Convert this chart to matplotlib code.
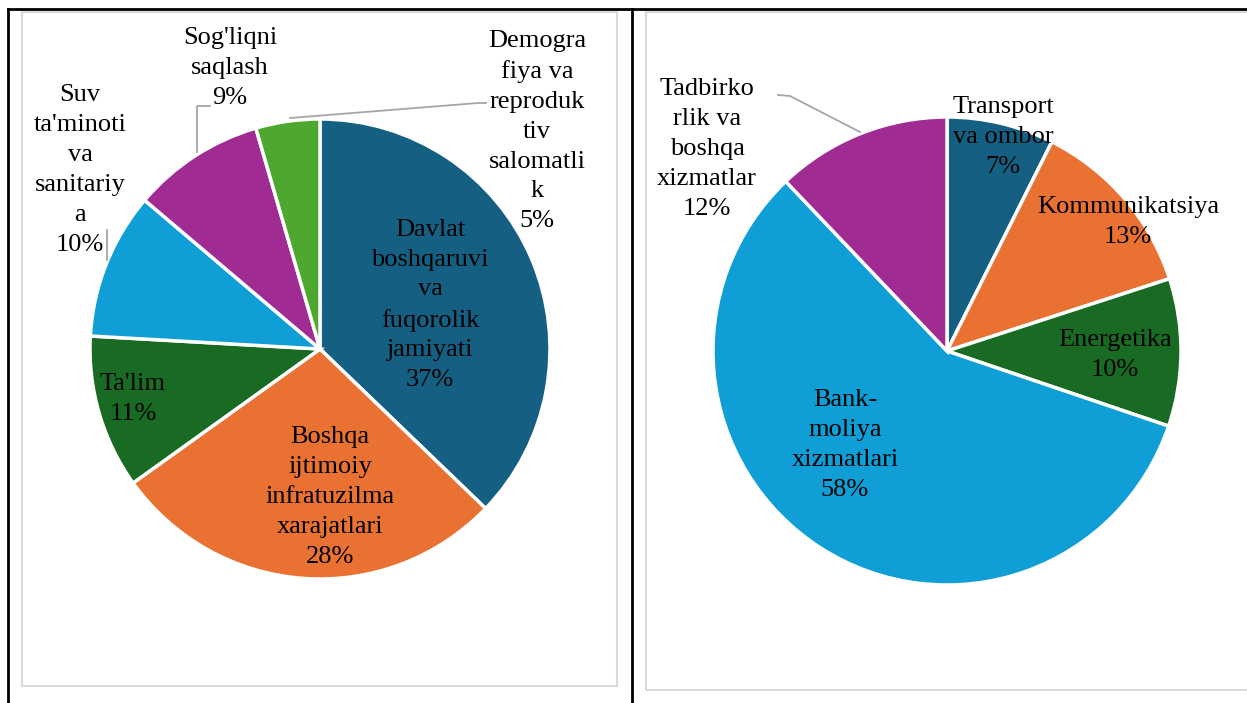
import matplotlib.pyplot as plt
from matplotlib.patches import Rectangle

# ----------- DATA ------------
left_labels = ["Davlat\nboshqaruvi\nva\nfuqorolik\njamiyati",
               "Boshqa\nijtimoiy\ninfratuzilma\nxarajatlari",
               "Ta'lim",
               "Suv\nta'minoti\nva\nsanitariy\na",
               "Sog'liqni\nsaqlash",
               "Demogra\nfiya va\nreproduk\ntiv\nsalomatli\nk"]
left_values = [37.2, 27.9, 10.8, 10.3, 9.3, 4.5]
left_pct = ["37%", "28%", "11%", "10%", "9%", "5%"]

right_labels = ["Transport\nva ombor", "Kommunikatsiya", "Energetika",
                "Bank-\nmoliya\nxizmatlari",
                "Tadbirko\nrlik va\nboshqa\nxizmatlar"]
right_values = [7.4, 12.6, 10.2, 57.7, 12.1]
right_pct = ["7%", "13%", "10%", "58%", "12%"]

left_colors = ['#156082', '#E97132', '#196B24', '#0F9ED5', '#A02B93', '#4EA72E']
right_colors = ['#156082', '#E97132', '#196B24', '#0F9ED5', '#A02B93']
# -------------------------------

W, H = 1247, 703
plt.rcParams['font.family'] = ['Liberation Serif', 'DejaVu Serif']

fig = plt.figure(figsize=(W / 100, H / 100), dpi=100)
ax = fig.add_axes([0, 0, 1, 1])


def Y(y):
    # image pixel row -> axis y
    return H - y


wp = dict(edgecolor='white', linewidth=2.5)
ax.pie(left_values, colors=left_colors, startangle=90, counterclock=False,
       center=(320, Y(349)), radius=230, wedgeprops=wp, frame=True)
ax.pie(right_values, colors=right_colors, startangle=90, counterclock=False,
       center=(947, Y(351)), radius=234, wedgeprops=wp, frame=True)
ax.set_xlim(0, W)
ax.set_ylim(0, H)
ax.set_aspect('equal')
ax.axis('off')

# table borders and chart frames
ax.plot([8, W], [Y(9), Y(9)], color='black', lw=2)
ax.plot([8, 8], [Y(9), 0], color='black', lw=2)
ax.plot([632, 632], [Y(9), 0], color='black', lw=2)
ax.add_patch(Rectangle((22, Y(686)), 595, 674, fill=False, ec='#D9D9D9', lw=1.5))
ax.add_patch(Rectangle((646, Y(690)), 610, 678, fill=False, ec='#D9D9D9', lw=1.5))

fs = 19
ls = 1.46
left_pos = [(430, 305), (330, 497), (133, 399), (80, 170), (230, 68), (537, 131)]
for lab, pct, (x, y) in zip(left_labels, left_pct, left_pos):
    ax.text(x, Y(y), lab + "\n" + pct, ha='center', va='center', fontsize=fs,
            linespacing=ls, color='black')

right_pos = [(1003, 137), (1128, 222), (1115, 355), (845, 445), (707, 149)]
for lab, pct, (x, y) in zip(right_labels, right_pct, right_pos):
    ax.text(x, Y(y), lab + "\n" + pct, ha='center', va='center', fontsize=fs,
            linespacing=ls, color='black')

# leader lines
lc = '#A6A6A6'
ax.plot([107, 107], [Y(230), Y(260)], color=lc, lw=1.3)
ax.plot([210, 197, 197], [Y(106), Y(106), Y(152)], color=lc, lw=1.3)
ax.plot([290, 478, 486], [Y(118), Y(103), Y(103)], color=lc, lw=1.3)
ax.plot([778, 790, 860], [Y(95), Y(96), Y(132)], color=lc, lw=1.3)

fig.savefig('out.png', dpi=100)
